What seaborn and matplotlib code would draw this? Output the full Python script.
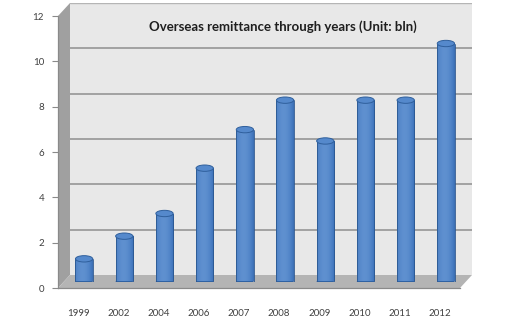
import numpy as np
import pandas as pd
import matplotlib
matplotlib.use("Agg")
import matplotlib.pyplot as plt
from matplotlib.patches import Polygon, Ellipse, Rectangle
import seaborn as sns

# Overseas remittance by year (billions)
years = ["1999", "2002", "2004", "2006", "2007", "2008", "2009", "2010", "2011", "2012"]
remittance = [1.0, 2.0, 3.0, 5.0, 6.7, 8.0, 6.2, 8.0, 8.0, 10.5]
y_ticks = [0, 2, 4, 6, 8, 10, 12]
title = "Overseas remittance through years (Unit: bln)"

df = pd.DataFrame({"year": years, "value": remittance})

sns.set_theme(style="white")
plt.rcParams["font.family"] = ["Lato", "DejaVu Sans"]

W, H = 520, 324
fig = plt.figure(figsize=(W / 100, H / 100), dpi=100)
fig.patch.set_facecolor("white")


def frac(x0, y0, x1, y1):
    """pixel box (top-left origin) -> figure fraction rect"""
    return [x0 / W, (H - y1) / H, (x1 - x0) / W, (y1 - y0) / H]


depth = 12  # pixel depth of the pseudo-3D box
fx0, fy0, fx1, fy1 = 58, 16, 460, 288  # front plane

# back wall with gridlines
back = fig.add_axes(frac(fx0 + depth, fy0 - depth * 13 / 12, fx1 + depth, fy1 - depth * 13 / 12), zorder=0)
back.set_facecolor("#e8e8e8")
back.set_xlim(0, 1)
back.set_ylim(0, 12)
for v in y_ticks[1:-1]:
    back.axhline(v, color="#8e8e8e", lw=1.1)
back.axhline(12, color="#b5b5b5", lw=1.0)
back.set_xticks([])
back.set_yticks([])
for s in back.spines.values():
    s.set_visible(False)

# side wall and floor drawn in figure pixels
tf = fig.transFigure


def px(x, y):
    return (x / W, (H - y) / H)


dy = depth * 13 / 12
side = Polygon([px(fx0, fy0), px(fx0 + depth, fy0 - dy), px(fx0 + depth, fy1 - dy), px(fx0, fy1)],
               closed=True, transform=tf, facecolor="#a0a0a0", edgecolor="none", zorder=1)
floor = Polygon([px(fx0, fy1), px(fx0 + depth, fy1 - dy), px(fx1 + depth, fy1 - dy), px(fx1, fy1)],
                closed=True, transform=tf, facecolor="#b4b4b4", edgecolor="none", zorder=1)
fig.patches.extend([side, floor])

# front axes: ticks and labels
ax = fig.add_axes(frac(fx0, fy0, fx1, fy1), zorder=2)
ax.set_facecolor("none")
ax.set_xlim(-0.5, len(years) - 0.5)
ax.set_ylim(0, 12)
ax.set_yticks(y_ticks)
ax.set_yticklabels([str(v) for v in y_ticks], fontsize=7, color="#404040")
ax.set_xticks(np.arange(len(years)))
ax.set_xticklabels(years, fontsize=7, color="#404040")
ax.set_xticks(np.arange(len(years) + 1) - 0.5, minor=True)
ax.tick_params(axis="x", which="major", length=0, pad=15)
ax.tick_params(axis="x", which="minor", length=4, color="#8a8a8a", width=0.8)
ax.tick_params(axis="y", length=4, color="#8a8a8a", width=0.8, pad=6, left=True)
for name, s in ax.spines.items():
    if name in ("left", "bottom"):
        s.set_color("#8a8a8a")
        s.set_linewidth(0.9)
    else:
        s.set_visible(False)

# bar plane at mid depth
bx = fig.add_axes(frac(fx0 + depth / 2, fy0 - dy / 2, fx1 + depth / 2, fy1 - dy / 2), zorder=3)
bx.set_facecolor("none")
sns.barplot(data=df, x="year", y="value", ax=bx, width=0.43, color="#3f74b8",
            edgecolor="none", saturation=1)
bx.set_xlim(-0.5, len(years) - 0.5)
bx.set_ylim(0, 12)
bx.axis("off")

# cylinder shading
grad = np.linspace(0, 1, 64)
shade = np.clip(0.55 + 0.45 * np.sin(np.pi * (grad * 0.9 + 0.05)) - 0.25 * grad, 0, 1)
cmap = matplotlib.colors.LinearSegmentedColormap.from_list("cyl", ["#224f88", "#4479c0", "#6797d4"])
cap_h = 0.28
for p in list(bx.patches):
    x, w, h = p.get_x(), p.get_width(), p.get_height()
    p.set_visible(False)
    body = Rectangle((x, 0), w, h, transform=bx.transData, facecolor="none", edgecolor="none")
    bx.add_patch(body)
    bottom = Ellipse((x + w / 2, 0), w, cap_h, transform=bx.transData, facecolor="#2f62a3",
                     edgecolor="none", zorder=2)
    bx.add_patch(bottom)
    im = bx.imshow(shade[np.newaxis, :], cmap=cmap, vmin=0, vmax=1, aspect="auto",
                   extent=(x, x + w, 0, h), zorder=3, interpolation="bilinear")
    im.set_clip_path(body)
    bx.plot([x, x], [0, h], color="#2a568f", lw=0.6, zorder=4)
    bx.plot([x + w, x + w], [0, h], color="#2a568f", lw=0.6, zorder=4)
    top = Ellipse((x + w / 2, h), w, cap_h, transform=bx.transData, facecolor="#5589cc",
                  edgecolor="#2f5f9c", lw=0.7, zorder=5)
    bx.add_patch(top)
bx.set_xlim(-0.5, len(years) - 0.5)
bx.set_ylim(0, 12)

# chart title
fig.text(283 / W, 1 - 27 / H, title, ha="center", va="center", fontsize=9.5,
         fontweight="bold", color="#1f1f1f")

fig.savefig("out.png", dpi=100, facecolor="white")
